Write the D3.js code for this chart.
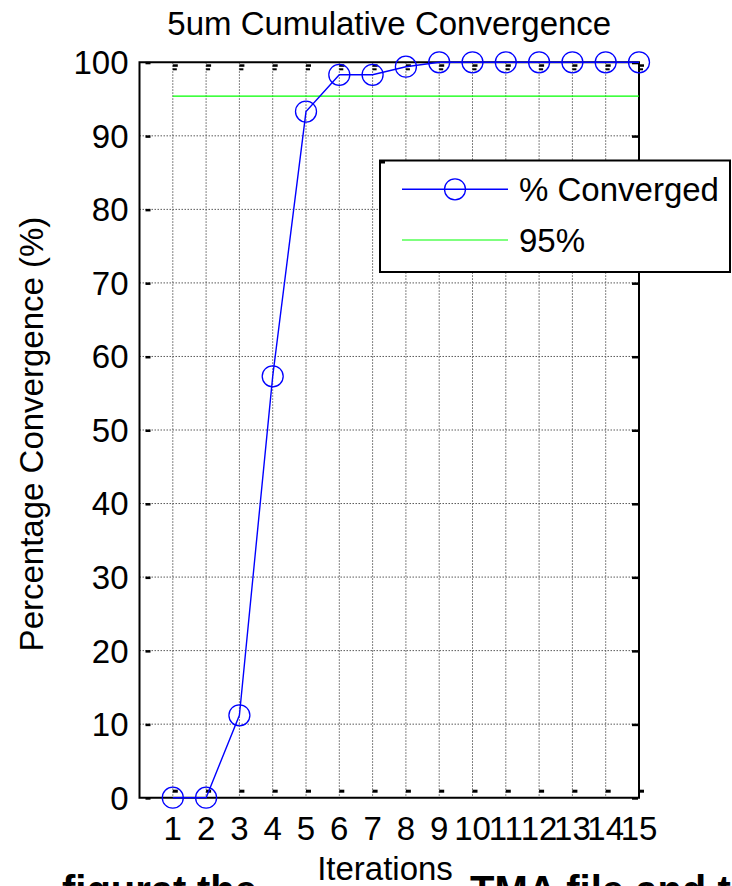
<!DOCTYPE html>
<html>
<head>
	<title></title>
	<script src="https://d3js.org/d3.v7.min.js"></script>
	<style>
		body { margin: 0; background: #fff; }
		text { font-family: "Liberation Sans", Arial, sans-serif; fill: #000; }
		.grid line { stroke: #5a5a5a; stroke-width: 1; stroke-dasharray: 1.5,1.5; }
	</style>
</head>
<body>
	<svg width="732" height="886"></svg>
<script type="text/javascript">

	// values
	const iterations = [1, 2, 3, 4, 5, 6, 7, 8, 9, 10, 11, 12, 13, 14, 15];
	const converged = [0, 0, 11.2, 57.3, 93.3, 98.3, 98.3, 99.4, 100, 100, 100, 100, 100, 100, 100];
	const threshold = 95.4;
	const yTicks = [0, 10, 20, 30, 40, 50, 60, 70, 80, 90, 100];
	const legendLabels = ["% Converged", "95%"];
	// words of the document text showing under the figure
	const pageWords = ["figurat", "the", "TMA file and the"];
	const pageWordX = [62, 197, 470];

	const svg = d3.select("svg");
	const fontSize = 33;

	var x = d3.scaleLinear()
		.domain([0, 15])
		.range([139.5, 639]);
	var y = d3.scaleLinear()
		.domain([0, 100])
		.range([797.7, 62.3]);

	const x0 = x.range()[0], x1 = x.range()[1];
	const y0 = y.range()[0], y1 = y.range()[1];

	// document text behind the figure (only the top shows)
	svg.append("g").selectAll("text")
		.data(pageWords)
		.enter().append("text")
		.attr("x", function(d, i) { return pageWordX[i]; })
		.attr("y", 904)
		.attr("font-size", 40)
		.attr("font-weight", "bold")
		.text(function(d) { return d; });

	// grid
	const grid = svg.append("g").attr("class", "grid");
	grid.selectAll(".gx")
		.data(iterations)
		.enter().append("line")
		.attr("x1", function(d) { return x(d); })
		.attr("x2", function(d) { return x(d); })
		.attr("y1", y1)
		.attr("y2", y0);
	grid.selectAll(".gy")
		.data(yTicks.slice(1, -1))
		.enter().append("line")
		.attr("x1", x0)
		.attr("x2", x1)
		.attr("y1", function(d) { return y(d); })
		.attr("y2", function(d) { return y(d); });

	// tick marks (inside, MATLAB style)
	const ticks = svg.append("g").attr("fill", "#000");
	ticks.selectAll(".tb")
		.data(iterations)
		.enter().append("rect")
		.attr("x", function(d) { return x(d); })
		.attr("y", y0 - 8)
		.attr("width", 5)
		.attr("height", 3);
	ticks.selectAll(".tt")
		.data(iterations)
		.enter().append("rect")
		.attr("x", function(d) { return x(d); })
		.attr("y", y1 + 2)
		.attr("width", 5)
		.attr("height", 2.5);
	ticks.selectAll(".tt2")
		.data(iterations)
		.enter().append("rect")
		.attr("x", function(d) { return x(d); })
		.attr("y", y1 + 6)
		.attr("width", 4)
		.attr("height", 2);
	ticks.selectAll(".tl")
		.data(yTicks)
		.enter().append("rect")
		.attr("x", x0 + 6)
		.attr("y", function(d) { return y(d) - 0.5; })
		.attr("width", 5)
		.attr("height", 2.5);
	ticks.selectAll(".tr")
		.data(yTicks)
		.enter().append("rect")
		.attr("x", x1 - 7)
		.attr("y", function(d) { return y(d) - 0.5; })
		.attr("width", 6)
		.attr("height", 2.5);

	// axes box
	svg.append("path")
		.attr("d", "M" + x0 + "," + y1 + "H" + x1 + "V" + y0 + "H" + x0 + "Z")
		.attr("fill", "none")
		.attr("stroke", "#000")
		.attr("stroke-width", 2);

	// y tick labels
	svg.append("g").selectAll("text")
		.data(yTicks)
		.enter().append("text")
		.attr("x", x0 - 11)
		.attr("y", function(d) { return y(d); })
		.attr("dy", "0.36em")
		.attr("text-anchor", "end")
		.attr("font-size", fontSize)
		.text(function(d) { return d; });

	// x tick labels
	svg.append("g").selectAll("text")
		.data(iterations)
		.enter().append("text")
		.attr("x", function(d) { return x(d); })
		.attr("y", 840)
		.attr("text-anchor", "middle")
		.attr("font-size", fontSize)
		.text(function(d) { return d; });

	// 95% line
	svg.append("line")
		.attr("x1", x(iterations[0]))
		.attr("x2", x(iterations[iterations.length - 1]))
		.attr("y1", y(threshold))
		.attr("y2", y(threshold))
		.attr("stroke", "#00ff00")
		.attr("stroke-width", 1.2);

	// convergence line + markers
	const line = d3.line()
		.x(function(d, i) { return x(iterations[i]); })
		.y(function(d) { return y(d); });
	svg.append("path")
		.datum(converged)
		.attr("d", line)
		.attr("fill", "none")
		.attr("stroke", "#0000ff")
		.attr("stroke-width", 1.4);
	svg.append("g").selectAll("circle")
		.data(converged)
		.enter().append("circle")
		.attr("cx", function(d, i) { return x(iterations[i]); })
		.attr("cy", function(d) { return y(d); })
		.attr("r", 10.5)
		.attr("fill", "none")
		.attr("stroke", "#0000ff")
		.attr("stroke-width", 1.3);

	// title
	svg.append("text")
		.attr("x", (x0 + x1) / 2)
		.attr("y", 35)
		.attr("text-anchor", "middle")
		.attr("font-size", fontSize)
		.text("5um Cumulative Convergence");

	// y label
	svg.append("text")
		.attr("transform", "translate(43," + 434 + ") rotate(-90)")
		.attr("text-anchor", "middle")
		.attr("font-size", fontSize)
		.text("Percentage Convergence (%)");

	// legend
	const legend = svg.append("g");
	legend.append("rect")
		.attr("x", 380)
		.attr("y", 160.5)
		.attr("width", 350)
		.attr("height", 111.5)
		.attr("fill", "#fff")
		.attr("stroke", "#000")
		.attr("stroke-width", 2);
	legend.append("rect")
		.attr("x", 380).attr("y", 160.5)
		.attr("width", 5).attr("height", 3)
		.attr("fill", "#000");
	const rows = [189.3, 240];
	legend.append("line")
		.attr("x1", 402).attr("x2", 508)
		.attr("y1", rows[0]).attr("y2", rows[0])
		.attr("stroke", "#0000ff").attr("stroke-width", 1.4);
	legend.append("circle")
		.attr("cx", 455).attr("cy", rows[0]).attr("r", 10.5)
		.attr("fill", "none").attr("stroke", "#0000ff").attr("stroke-width", 1.3);
	legend.append("line")
		.attr("x1", 402).attr("x2", 508)
		.attr("y1", rows[1]).attr("y2", rows[1])
		.attr("stroke", "#00ff00").attr("stroke-width", 1.2);
	legend.selectAll(".lt")
		.data(legendLabels)
		.enter().append("text")
		.attr("x", 519)
		.attr("y", function(d, i) { return rows[i]; })
		.attr("dy", "0.36em")
		.attr("font-size", fontSize)
		.text(function(d) { return d; });

	// x label on a white patch that hides the page text
	svg.append("rect")
		.attr("x", 312).attr("y", 852)
		.attr("width", 152).attr("height", 34)
		.attr("fill", "#fff");
	svg.append("text")
		.attr("x", 385)
		.attr("y", 880)
		.attr("text-anchor", "middle")
		.attr("font-size", fontSize)
		.text("Iterations");

</script>
</body>
</html>
